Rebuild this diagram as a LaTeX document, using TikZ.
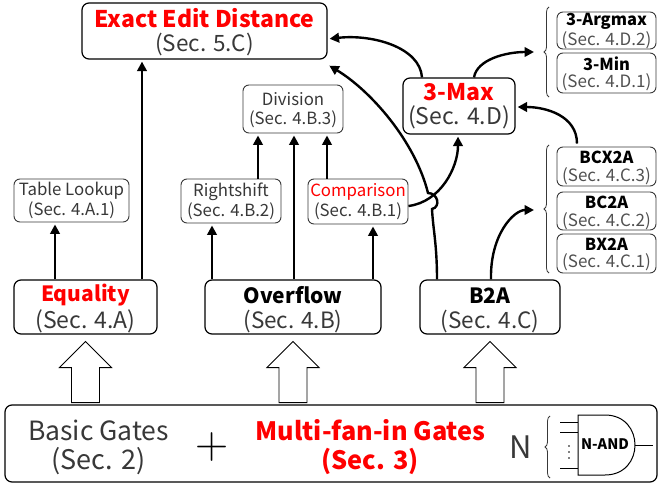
\documentclass[tikz,border=0pt]{standalone}
\usepackage{fontspec}
\setmainfont{Noto Sans CJK JP}
\newfontfamily\lmfont{Latin Modern Roman}
\usetikzlibrary{arrows.meta,decorations.pathreplacing,calc}
\definecolor{dgray}{HTML}{383838}
\definecolor{mgray}{HTML}{505050}
\definecolor{myred}{HTML}{FF0000}
\newcommand\fsz[1]{\fontsize{#1}{#1}\selectfont}
\newcommand\blockarrow[1]{\draw[blk] ($(#1.south)+(0,7)$) -- ++(26,26) -- ++(-12,0) -- ++(0,35) -- ++(-28,0) -- ++(0,-35) -- ++(-12,0) -- cycle;}
\tikzset{
  bigbox/.style={draw=black, line width=1.2pt, rounded corners=7pt, inner sep=0pt},
  smallbox/.style={draw=dgray, line width=0.9pt, rounded corners=6pt, inner sep=0pt},
  txt/.style={inner sep=0pt},
  arr/.style={line width=2.4pt, -{Triangle[length=9.5pt,width=9.5pt]}, shorten >=2pt},
  blk/.style={draw=black, line width=0.9pt, fill=white},
  br/.style={decorate, decoration={brace, amplitude=5pt}, draw=dgray, line width=0.8pt},
  gate/.style={draw=black, line width=1pt},
}
\begin{document}
\begin{tikzpicture}[x=1pt,y=-1pt]
\useasboundingbox (0,0) rectangle (659,487);
% ---- boxes
\node[bigbox, minimum width=245pt, minimum height=56pt] (eed) at (204.5,31) {};
\node[smallbox, minimum width=115pt, minimum height=43pt] (tl) at (71.5,200.5) {};
\node[smallbox, minimum width=100pt, minimum height=44pt] (rs) at (231,201) {};
\node[smallbox, minimum width=100pt, minimum height=48pt] (div) at (293,109) {};
\node[smallbox, minimum width=100pt, minimum height=45pt] (cmp) at (358,201.5) {};
\node[bigbox, minimum width=112pt, minimum height=56pt] (max) at (459,106) {};
\node[smallbox, minimum width=99pt, minimum height=37pt] (argmax) at (606.5,30.5) {};
\node[smallbox, minimum width=99pt, minimum height=40pt] (min) at (606.5,73) {};
\node[smallbox, minimum width=99pt, minimum height=39pt] (bcx) at (606.5,166.5) {};
\node[smallbox, minimum width=99pt, minimum height=38pt] (bc) at (606.5,211) {};
\node[smallbox, minimum width=99pt, minimum height=39pt] (bx) at (606.5,253.5) {};
\node[bigbox, minimum width=143pt, minimum height=54pt] (eq) at (85.5,307) {};
\node[bigbox, minimum width=176pt, minimum height=54pt] (ov) at (293,307) {};
\node[bigbox, minimum width=140pt, minimum height=54pt] (b2a) at (490,307) {};
\node[bigbox, minimum width=652pt, minimum height=77pt] (base) at (331,443.5) {};
% ---- texts
\node[txt] (eed1) at (204.5,18.5) {\fsz{23}\bfseries\color{myred}Exact Edit Distance};
\node[txt] (eed2) at (204.5,45) {\fsz{22.5}\color{dgray}(Sec. 5.C)};
\node[txt] (tl1) at (71.5,190.5) {\fsz{16.8}\color{dgray}Table Lookup};
\node[txt] (tl2) at (71.5,210) {\fsz{16.8}\color{dgray}(Sec. 4.A.1)};
\node[txt] (rs1) at (231,191.5) {\fsz{16.8}\color{dgray}Rightshift};
\node[txt] (rs2) at (231,211.5) {\fsz{16.8}\color{dgray}(Sec. 4.B.2)};
\node[txt] (div1) at (293,99) {\fsz{16.8}\color{dgray}Division};
\node[txt] (div2) at (293,119) {\fsz{16.8}\color{dgray}(Sec. 4.B.3)};
\node[txt] (cmp1) at (358,191.5) {\fsz{16.8}\color{myred}Comparison};
\node[txt] (cmp2) at (358,211.5) {\fsz{16.8}\color{dgray}(Sec. 4.B.1)};
\node[txt] (max1) at (459,92.5) {\fsz{23}\bfseries\color{myred}3-Max};
\node[txt] (max2) at (459,117.5) {\fsz{23}\color{dgray}(Sec. 4.D)};
\node[txt] (am1) at (606.5,21.5) {\fsz{16.5}\bfseries 3-Argmax};
\node[txt] (am2) at (606.5,40.5) {\fsz{17}\color{mgray}(Sec. 4.D.2)};
\node[txt] (mn1) at (606.5,64) {\fsz{16.5}\bfseries 3-Min};
\node[txt] (mn2) at (606.5,82.5) {\fsz{17}\color{mgray}(Sec. 4.D.1)};
\node[txt] (bcx1) at (606.5,157) {\fsz{16.5}\bfseries BCX2A};
\node[txt] (bcx2) at (606.5,176) {\fsz{17}\color{mgray}(Sec. 4.C.3)};
\node[txt] (bc1) at (606.5,202.5) {\fsz{16.5}\bfseries BC2A};
\node[txt] (bc2) at (606.5,221) {\fsz{17}\color{mgray}(Sec. 4.C.2)};
\node[txt] (bx1) at (606.5,244) {\fsz{16.5}\bfseries BX2A};
\node[txt] (bx2) at (606.5,262.5) {\fsz{17}\color{mgray}(Sec. 4.C.1)};
\node[txt] (eq1) at (85.5,295.5) {\fsz{21}\bfseries\color{myred}Equality};
\node[txt] (eq2) at (85.5,321.5) {\fsz{23}\color{dgray}(Sec. 4.A)};
\node[txt] (ov1) at (293,295.5) {\fsz{21}\bfseries Overflow};
\node[txt] (ov2) at (293,321.5) {\fsz{22.5}\color{dgray}(Sec. 4.B)};
\node[txt] (b2a1) at (490,295.5) {\fsz{21}\bfseries B2A};
\node[txt] (b2a2) at (490,321.5) {\fsz{22.5}\color{dgray}(Sec. 4.C)};
\node[txt] (bg1) at (98.5,430.5) {\fsz{26.5}\color{dgray}Basic Gates};
\node[txt] (bg2) at (98.5,461.5) {\fsz{27}\color{dgray}(Sec. 2)};
\node[txt] (plus) at (212,447) {\fsz{46}\lmfont +};
\node[txt] (mf1) at (370.5,430.5) {\fsz{25.3}\bfseries\color{myred}Multi-fan-in Gates};
\node[txt] (mf2) at (370,461.5) {\fsz{25.3}\bfseries\color{myred}(Sec. 3)};
\node[txt] (nn) at (521,447) {\fsz{31}\color{dgray}N};
\node[txt] (nand) at (605,444) {\fsz{14.5}\bfseries N-AND};
% ---- braces
\draw[br] (549,97) -- (549,7);
\draw[br] (549,273) -- (549,145);
\draw[br] (550,478) -- (550,416);
\coordinate (dbr) at (536,52);
\coordinate (cbr) at (536,210);
% ---- gate
\draw[gate] (578,415) -- (605,415) .. controls (645,415) and (645,475) .. (605,475) -- (578,475) -- cycle;
\draw[gate] (560,422) -- (578,422) (560,432) -- (578,432) (560,468) -- (578,468);
\draw[gate] (635,445) -- (653,445);
\foreach \yy in {446,452,458} \fill[black] (569,\yy) circle (0.8pt);
% ---- block arrows
\blockarrow{eq}
\blockarrow{ov}
\blockarrow{b2a}
% ---- straight connectors
\draw[arr] ([xshift=-30.5pt]eq.north) -- ([xshift=-16.5pt]tl.south);
\draw[arr] ([xshift=56.5pt]eq.north) -- ([xshift=-62.5pt]eed.south);
\draw[arr] ([xshift=-81pt]ov.north) -- ([xshift=-19pt]rs.south);
\draw[arr] ([xshift=1pt]ov.north) -- ([xshift=1pt]div.south);
\draw[arr] ([xshift=80pt]ov.north) -- ([xshift=15pt]cmp.south);
\draw[arr] ([xshift=27pt]rs.north) -- ([xshift=-35pt]div.south);
\draw[arr] ([xshift=-31pt]cmp.north) -- ([xshift=34pt]div.south);
% ---- curved connectors
\coordinate (hopA) at (432,209);
\coordinate (hopB) at (428,193);
\draw[arr] ([yshift=-4.5pt]cmp.east) .. controls +(32,-4) and +(0,33) .. ([xshift=-1pt]max.south);
\draw[arr] ([xshift=-53pt]b2a.north) .. controls +(0,-35) and +(1,20) .. (hopA)
  .. controls +(9,-2) and +(10,0) .. (hopB)
  .. controls +(-13,-52) and +(43,26) .. ([yshift=-5pt]eed.south east);
\draw[arr] ([xshift=1pt]b2a.north) .. controls +(-1,-45) and +(-22,0) .. (cbr);
\draw[arr] ([xshift=-29.5pt,yshift=3pt]bcx.north) .. controls +(0,-28) and +(30,0) .. ([yshift=-1pt]max.east);
\draw[arr] ([xshift=15pt]max.north) .. controls +(3,-18) and +(-30,0) .. (dbr);
\draw[arr] ([xshift=-37pt]max.north) .. controls +(-2,-30) and +(45,-5) .. ([yshift=-8pt]eed.east);
\end{tikzpicture}
\end{document}
